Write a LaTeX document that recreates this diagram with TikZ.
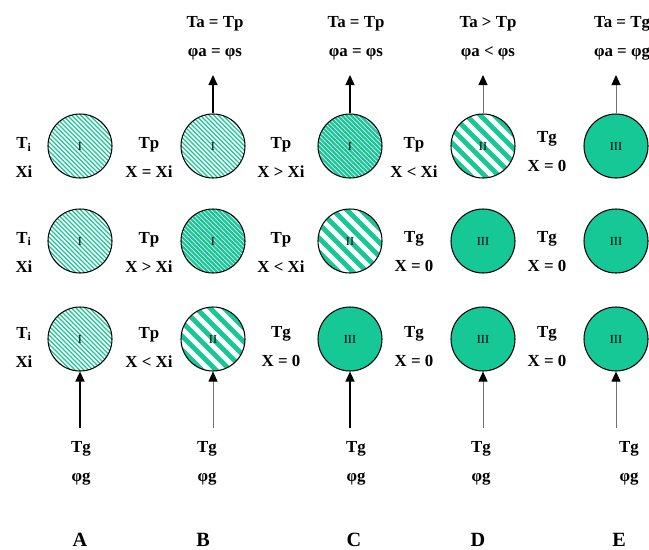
\documentclass[tikz,border=0pt]{standalone}
\usepackage{fontspec}
\setmainfont{Liberation Serif}
\usetikzlibrary{arrows.meta}

\definecolor{ballgreen}{RGB}{22,200,150}

\tikzset{
    ball/.style={circle, draw, line width=0.6pt, minimum size=1.28cm, inner sep=0pt,
        font=\fontsize{7}{8}\selectfont},
    hatch/.style 2 args={path picture={
        \foreach \k in {-16,...,16}
            \draw[ballgreen, line width=#2] ([xshift=\k*#1]path picture bounding box.center)
                ++(-1cm,1cm) -- ++(2cm,-2cm);}},
    fineball/.style={ball, hatch={0.09cm}{0.75pt}},
    denseball/.style={ball, hatch={0.09cm}{1.35pt}},
    wideball/.style={ball, hatch={0.28cm}{2.8pt}},
    fullball/.style={ball, fill=ballgreen},
    state/.style={align=center, inner sep=0pt, font=\bfseries\fontsize{9.6}{16.5}\selectfont},
    column/.style={inner sep=0pt, font=\bfseries\fontsize{11.5}{13}\selectfont},
    flow/.style={-{Triangle[length=0.2cm, width=0.18cm]}, line width=0.7pt},
    flowgrey/.style={-{Triangle[length=0.2cm, width=0.18cm, color=black]}, draw=black!55, line width=0.5pt}
}

\begin{document}
\begin{tikzpicture}[x=0.2mm, y=-0.2mm]

    \useasboundingbox (0,0) rectangle (649,549);

    % row 1
    \node[fineball]  (a1) at (80,146)  {I};
    \node[fineball]  (b1) at (213,146) {I};
    \node[denseball] (c1) at (350,146) {I};
    \node[wideball]  (d1) at (483,146) {II};
    \node[fullball]  (e1) at (616,146) {III};

    \node[state] (a1lbl) at (24,157.5)  {T\textsubscript{i}\\Xi};
    \node[state] (b1lbl) at (149,157.5) {Tp\\X = Xi};
    \node[state] (c1lbl) at (281,157.5) {Tp\\X > Xi};
    \node[state] (d1lbl) at (414,157.5) {Tp\\X < Xi};
    \node[state] (e1lbl) at (547,152)   {Tg\\X = 0};

    % row 2
    \node[fineball]  (a2) at (80,241)  {I};
    \node[denseball] (b2) at (213,241) {I};
    \node[wideball]  (c2) at (350,241) {II};
    \node[fullball]  (d2) at (483,241) {III};
    \node[fullball]  (e2) at (616,241) {III};

    \node[state] (a2lbl) at (24,252)  {T\textsubscript{i}\\Xi};
    \node[state] (b2lbl) at (149,252) {Tp\\X > Xi};
    \node[state] (c2lbl) at (281,252) {Tp\\X < Xi};
    \node[state] (d2lbl) at (414,252) {Tg\\X = 0};
    \node[state] (e2lbl) at (547,252) {Tg\\X = 0};

    % row 3
    \node[fineball] (a3) at (80,339)  {I};
    \node[wideball] (b3) at (213,339) {II};
    \node[fullball] (c3) at (350,339) {III};
    \node[fullball] (d3) at (483,339) {III};
    \node[fullball] (e3) at (616,339) {III};

    \node[state] (a3lbl) at (24,347)  {T\textsubscript{i}\\Xi};
    \node[state] (b3lbl) at (149,347) {Tp\\X < Xi};
    \node[state] (c3lbl) at (281,347) {Tg\\X = 0};
    \node[state] (d3lbl) at (414,347) {Tg\\X = 0};
    \node[state] (e3lbl) at (547,347) {Tg\\X = 0};

    % air leaving at the top
    \coordinate (b1out) at (213,75);
    \coordinate (c1out) at (350,75);
    \coordinate (d1out) at (483,75);
    \coordinate (e1out) at (616,75);
    \draw[flow] (b1) -- (b1out);
    \draw[flow] (c1) -- (c1out);
    \draw[flowgrey] (d1) -- (d1out);
    \draw[flowgrey] (e1) -- (e1out);

    \node[state] (b1air) at (215,38) {Ta = Tp\\φa = φs};
    \node[state] (c1air) at (356,38) {Ta = Tp\\φa = φs};
    \node[state] (d1air) at (488,38) {Ta > Tp\\φa < φs};
    \node[state] (e1air) at (622,38) {Ta = Tg\\φa = φg};

    % gas entering at the bottom
    \coordinate (a3in) at (80,428);
    \coordinate (b3in) at (213,428);
    \coordinate (c3in) at (350,428);
    \coordinate (d3in) at (483,428);
    \coordinate (e3in) at (616,428);
    \draw[flow] (a3in) -- (a3);
    \draw[flowgrey] (b3in) -- (b3);
    \draw[flow] (c3in) -- (c3);
    \draw[flowgrey] (d3in) -- (d3);
    \draw[flowgrey] (e3in) -- (e3);

    \node[state] (a3gas) at (81,463)  {Tg\\φg};
    \node[state] (b3gas) at (207,463) {Tg\\φg};
    \node[state] (c3gas) at (356,463) {Tg\\φg};
    \node[state] (d3gas) at (481,463) {Tg\\φg};
    \node[state] (e3gas) at (629,463) {Tg\\φg};

    % columns
    \node[column] (colA) at (80,540)  {A};
    \node[column] (colB) at (203,540) {B};
    \node[column] (colC) at (354,540) {C};
    \node[column] (colD) at (478,540) {D};
    \node[column] (colE) at (619,540) {E};

\end{tikzpicture}
\end{document}
